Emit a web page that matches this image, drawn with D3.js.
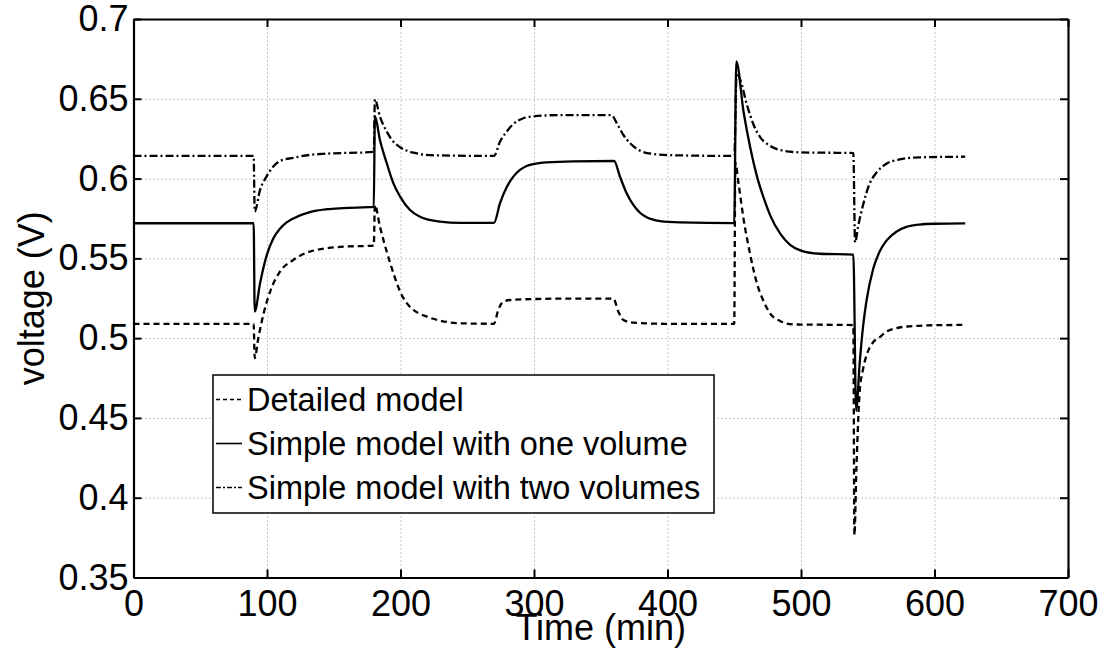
<!DOCTYPE html>
<html>
<head>
<meta charset="utf-8">
<script src="https://cdn.jsdelivr.net/npm/d3@7"></script>
<style>
  html, body { margin: 0; padding: 0; background: #fff; }
  svg { display: block; font-family: "Liberation Sans", Arial, sans-serif; }
</style>
</head>
<body>
<script>
// ---- data (time in min, voltage in V) ----
const xTicks = [0, 100, 200, 300, 400, 500, 600, 700];
const yTicks = [0.35, 0.4, 0.45, 0.5, 0.55, 0.6, 0.65, 0.7];

const detailed = [
  [0, 0.509], [90, 0.509], [90.8, 0.4875], [93.5, 0.500], [97.8, 0.5166], [102.7, 0.530],
  [109.7, 0.5417], [119.7, 0.549], [132, 0.5542], [157, 0.5573], [180, 0.558],
  [180.8, 0.5835], [184.6, 0.5699], [189.7, 0.5542], [194.7, 0.5407], [199.7, 0.5292],
  [204.7, 0.5219], [209.7, 0.5177], [219.7, 0.5135], [229.6, 0.511], [244.6, 0.5093],
  [270, 0.509], [273.2, 0.5177], [277, 0.5229], [282, 0.5239], [300, 0.5245],
  [330, 0.5248], [359.4, 0.5248], [363.2, 0.5166], [367, 0.5114], [374.4, 0.5097],
  [399.5, 0.509], [450, 0.509], [450.8, 0.610], [453.2, 0.597], [457, 0.5746],
  [462, 0.5522], [467, 0.5343], [472, 0.5231], [477, 0.5153], [484.3, 0.5108],
  [494.3, 0.5086], [539.2, 0.5082], [540, 0.3765], [541.5, 0.418], [543, 0.4515],
  [544, 0.4671], [546.5, 0.4806], [550.2, 0.4918], [554, 0.4974], [559, 0.5007],
  [564, 0.5041], [571.4, 0.5063], [581.3, 0.5074], [600, 0.5081], [623, 0.5083]
];

const oneVolume = [
  [0, 0.572], [90, 0.572], [90.8, 0.5166], [94.8, 0.5344], [99.8, 0.552], [104.7, 0.5625],
  [109.7, 0.5685], [114.7, 0.5725], [119.7, 0.575], [132, 0.579], [145, 0.5808],
  [157, 0.5815], [180, 0.5822], [180.8, 0.6392], [184.6, 0.6242], [189.7, 0.6096],
  [194.7, 0.597], [199.7, 0.5887], [207.1, 0.5803], [214.6, 0.5761], [229.6, 0.573],
  [244.6, 0.5722], [270, 0.5722], [274.5, 0.5845], [279.5, 0.5945], [284.5, 0.6012],
  [289.5, 0.6054], [294.5, 0.6079], [299.5, 0.6091], [309.5, 0.6102], [329.5, 0.6108],
  [360, 0.611], [364.4, 0.6012], [369.4, 0.5908], [374.4, 0.5835], [379.4, 0.5786],
  [384.4, 0.5757], [394.4, 0.5734], [409.4, 0.5726], [450, 0.5721], [451.5, 0.6735],
  [457, 0.6417], [462, 0.6193], [467, 0.6014], [472, 0.588], [477, 0.5768],
  [484.3, 0.5656], [491.8, 0.5585], [500, 0.5549], [514, 0.5529], [539.2, 0.5524],
  [541.3, 0.4545], [544, 0.485], [546.5, 0.5074], [549, 0.5231], [554, 0.5432],
  [559, 0.5544], [564, 0.5611], [571.4, 0.5667], [578.9, 0.5697], [588.8, 0.5712],
  [600, 0.5717], [623, 0.5719]
];

const twoVolumes = [
  [0, 0.6142], [90, 0.6142], [90.8, 0.5793], [94.8, 0.5929], [99.8, 0.6015], [104.7, 0.6075],
  [109.7, 0.611], [119.7, 0.613], [132, 0.6148], [144.6, 0.6156], [180, 0.6167],
  [180.8, 0.6497], [184.6, 0.6388], [189.7, 0.6294], [194.7, 0.6231], [199.7, 0.6196],
  [209.7, 0.6162], [224.6, 0.6146], [270, 0.6142], [274.5, 0.6231], [279.5, 0.6294],
  [284.5, 0.6342], [292, 0.6378], [299.5, 0.639], [319.5, 0.6398], [358, 0.6398],
  [362, 0.6347], [367, 0.6273], [372, 0.6221], [379.4, 0.6175], [389.4, 0.6154],
  [404.4, 0.6146], [450, 0.6142], [451.8, 0.666], [454.5, 0.6619], [459.5, 0.6462],
  [464.4, 0.6339], [469.4, 0.626], [476.9, 0.6205], [486.8, 0.6175], [500, 0.6164],
  [539.2, 0.616], [540.5, 0.560], [542.8, 0.5701], [546.5, 0.5835], [551.5, 0.597],
  [556.5, 0.6037], [564, 0.6093], [573.9, 0.612], [588.8, 0.6133], [623, 0.6137]
];

const series = [
  { name: "Detailed model", values: detailed, dash: "6,4" },
  { name: "Simple model with one volume", values: oneVolume, dash: null },
  { name: "Simple model with two volumes", values: twoVolumes, dash: "8,3,2,3" }
];

// ---- layout ----
const W = 1106, H = 659;
const margin = { left: 133.5, top: 19, right: W - 1068, bottom: H - 577.5 };
const iw = W - margin.left - margin.right;
const ih = H - margin.top - margin.bottom;

const svg = d3.select("body").append("svg")
  .attr("width", W)
  .attr("height", H);

const x = d3.scaleLinear().domain([0, 700]).range([0, iw]);
const y = d3.scaleLinear().domain([0.35, 0.7]).range([ih, 0]);

const g = svg.append("g").attr("transform", `translate(${margin.left},${margin.top})`);

// dotted grid
g.append("g")
  .attr("class", "grid")
  .attr("transform", `translate(0,${ih})`)
  .call(d3.axisBottom(x).tickValues(xTicks.slice(1, -1)).tickSize(-ih).tickFormat(""));
g.append("g")
  .attr("class", "grid")
  .call(d3.axisLeft(y).tickValues(yTicks.slice(1, -1)).tickSize(-iw).tickFormat(""));
g.selectAll(".grid .domain").remove();
g.selectAll(".grid line")
  .attr("stroke", "#8a8a8a")
  .attr("stroke-width", 1)
  .attr("stroke-dasharray", "1,3");

// curves
const line = d3.line()
  .x(d => x(d[0]))
  .y(d => y(d[1]))
  .curve(d3.curveMonotoneX);

g.selectAll(".series")
  .data(series)
  .join("path")
  .attr("class", "series")
  .attr("fill", "none")
  .attr("stroke", "#000")
  .attr("stroke-width", 2.3)
  .attr("stroke-dasharray", d => d.dash)
  .attr("d", d => line(d.values));

// axes with inward ticks
const fmt = d => String(+d.toFixed(2));
const tickLen = 8;

const xAxis = g.append("g")
  .attr("transform", `translate(0,${ih})`)
  .call(d3.axisBottom(x).tickValues(xTicks).tickSizeInner(-tickLen).tickSizeOuter(0)
    .tickPadding(0).tickFormat(d => d));
xAxis.selectAll("text").attr("y", 13).attr("dy", "0.71em");

const yAxis = g.append("g")
  .call(d3.axisLeft(y).tickValues(yTicks).tickSizeInner(-tickLen).tickSizeOuter(0)
    .tickPadding(0).tickFormat(fmt));
yAxis.selectAll("text").attr("x", -5);

g.append("g")
  .call(d3.axisTop(x).tickValues(xTicks).tickSizeInner(-tickLen).tickSizeOuter(0).tickFormat(""));
g.append("g")
  .attr("transform", `translate(${iw},0)`)
  .call(d3.axisRight(y).tickValues(yTicks).tickSizeInner(-tickLen).tickSizeOuter(0).tickFormat(""));

g.selectAll(".domain").attr("stroke", "#000").attr("stroke-width", 2.2);
g.selectAll(".tick line:not(.grid line)").attr("stroke-width", 2);
g.selectAll(".grid .tick line").attr("stroke-width", 1);
g.selectAll(".tick text")
  .attr("fill", "#000")
  .style("font-size", "36px")
  .style("font-family", '"Liberation Sans", Arial, sans-serif');

// axis labels
svg.append("text")
  .attr("x", margin.left + iw / 2)
  .attr("y", 640)
  .attr("text-anchor", "middle")
  .style("font-size", "36px")
  .text("Time (min)");

svg.append("text")
  .attr("transform", `translate(44,${margin.top + ih / 2}) rotate(-90)`)
  .attr("text-anchor", "middle")
  .style("font-size", "36px")
  .text("voltage (V)");

// legend
const legend = svg.append("g").attr("transform", "translate(213,375)");
legend.append("rect")
  .attr("width", 501)
  .attr("height", 138)
  .attr("fill", "#fff")
  .attr("stroke", "#000")
  .attr("stroke-width", 1.5);

const rows = legend.selectAll(".row")
  .data(series)
  .join("g")
  .attr("class", "row")
  .attr("transform", (d, i) => `translate(0,${24.5 + i * 44})`);

rows.append("line")
  .attr("x1", 3)
  .attr("x2", 29)
  .attr("stroke", "#000")
  .attr("stroke-width", 1.6)
  .attr("stroke-dasharray", d => d.dash ? (d.dash === "6,4" ? "4,3" : "5,2,2,2") : null);

rows.append("text")
  .attr("x", 34)
  .attr("dy", "0.36em")
  .style("font-size", "32.5px")
  .text(d => d.name);
</script>
</body>
</html>
